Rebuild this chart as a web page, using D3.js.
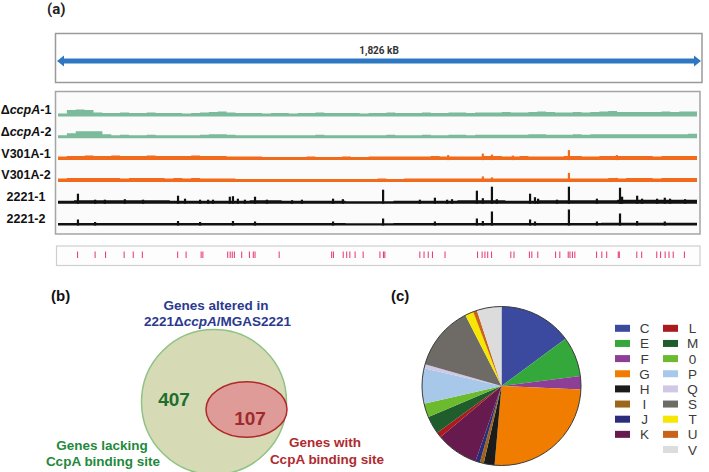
<!DOCTYPE html>
<html><head><meta charset="utf-8">
<script src="https://cdn.jsdelivr.net/npm/d3@7"></script>
<style>body{margin:0;background:#fff}svg{display:block}</style>
</head><body>
<svg id="c" width="709" height="472"></svg>
<script>
// ---------------- DATA ----------------
const genomeKb = 1826;
const genomeLabel = "1,826 kB";
const trackNames = ["ΔccpA-1", "ΔccpA-2", "V301A-1", "V301A-2", "2221-1", "2221-2"];

// binned coverage (relative units) per track
const covDccpA1 = [3,6.5,7,6.5,4,3.5,3.5,4,3.5,3.5,4,3.5,3.5,3.5,3,3.5,4,4.5,5,4,3.5,3.5,3.5,3,3.5,3.5,3,3.5,3.5,4,3.5,3.5,3.5,3.5,3,3.5,3.5,4,3.5,3.5,3.5,4,3.5,3.5,4,4,3.5,4,4,4,4.5,4,4,4.5,5,4.5,4,4,4.5,4,4.5,5,5.5,4.5,4.5,4.5,4.5,4.5,5,4.5,5,5];
const covDccpA2 = [3,5,7,7,7,4,3,3.5,3,3,3.5,3,3,3,3,3,3.5,4,4,3.5,3,3,3,3,3,3,3,3,3,3.5,3,3,3,3,3,3,3,3.5,3,3,3,3.5,3,3,3.5,3.5,3,3.5,3.5,3.5,3.5,3.5,3.5,4,4,3.5,3.5,3.5,4,3.5,4,4,4,4,4,4,4,4,4,4,4,4.5];
const covV301A1 = [3.5,4,4,4.5,4,4,4.5,4,4,4,4.5,4,4,4,4,4.5,4,4,4,3.5,3.5,3.5,3.5,3,3,3,3,3,3.5,3,3,3,3.5,3,3,3.5,3.5,3.5,3.5,3.5,3.5,3.5,4,3.5,3.5,3.5,3.5,3.5,4,4,3.5,3.5,4,3.5,3.5,3.5,3.5,4,4,3.5,3.5,4,4,4,4,4,4,3.5,4,4,4,4];
const covV301A2 = [3.5,4,4,4,4,4,4,3.5,4,4,4,4,3.5,4,3.5,4,3.5,3.5,3.5,3.5,3,3,3,3,3,3,3,3,3,3,3,3,3,3,3,3,3.5,3,3,3.5,3.5,3.5,3.5,3.5,3.5,3.5,3.5,3.5,3.5,3.5,3.5,3.5,3.5,3.5,3.5,3.5,3.5,3.5,3.5,3.5,3.5,3.5,4,3.5,4,4,4,3.5,4,4,4,4];
const cov2221_1 = [3,3.5,3.5,3.5,3.5,3.5,3.5,3,3,3,3,3,3.5,3.5,3,3,3,3,2.5,2.5,2.5,3,3,3,3,3.5,3.5,3.5,3,3,3.5,3.5,3.5,3.5,3.5,4,4,4,4,4];
const cov2221_2 = [2.5,2.5,2.5,2.5,2.5,2.5,2.5,2.5,2.5,2.5,2.5,2.5,2.5,2.5,2.5,2.5,2.5,2.5,2.2,2.2,2.2,2.5,2.5,2.5,2.5,2.5,2.5,2.5,2.5,2.5,2.5,2.5,2.5,2.5,2.8,2.8,2.8,2.8,2.8,2.8];

// coverage peaks [position kB, coverage]
const peaksDccpA1 = [];
const peaksDccpA2 = [];
const peaksV301A1 = [[1115,5],[1214,6.5],[1240,5.5],[1300,4.5],[1460,10],[1597,5]];
const peaksV301A2 = [[1214,5.5],[1240,4.5],[1460,9],[1597,4]];
const peaks2221_1 = [[57,10],[106,4],[134,4],[191,4.5],[243,4],[343,8],[363,5],[406,4],[429,4],[443,4],[491,7],[500,7.5],[514,5],[534,4],[563,7],[597,4],[669,3.5],[697,4],[786,5],[814,4.5],[929,14],[1034,4],[1077,6],[1112,4],[1126,4.5],[1197,13],[1214,5.5],[1240,17],[1254,4.5],[1349,10],[1363,6.5],[1372,5],[1426,4],[1460,17],[1540,5],[1606,16],[1612,7],[1655,8],[1669,5],[1712,5],[1734,6],[1749,5],[1792,4.5]];
const peaks2221_2 = [[57,6],[106,3.5],[343,4.5],[406,3.5],[500,4.5],[563,4],[786,4],[929,7],[1077,4],[1197,7],[1214,4.5],[1240,14],[1349,6],[1363,4],[1460,16],[1540,4],[1606,12],[1655,4.5],[1734,4]];

// CcpA binding sites (kB)
const bindingSitesKb = [56,106,136,189,215,241,342,366,409,414,485,492,498,504,525,547,558,563,632,782,787,815,825,834,849,872,920,930,934,1034,1046,1058,1070,1106,1199,1212,1220,1228,1239,1294,1303,1347,1354,1371,1422,1434,1458,1463,1470,1477,1539,1554,1568,1601,1604,1654,1668,1711,1722,1735,1746,1758,1790];

// Venn
const vennCounts = [407, 107];
const vennTitle = ["Genes altered in", "2221ΔccpA/MGAS2221"];
const vennLacking = ["Genes lacking", "CcpA binding site"];
const vennWith = ["Genes with", "CcpA binding site"];

// Pie (COG category shares, %)
const cogCategories = ["C","E","F","G","H","I","J","K","L","M","0","P","Q","S","T","U","V"];
const cogShares = [14.9,8.1,2.7,25.7,2.2,0.8,0.9,8.6,1.1,3.6,2.8,7.2,0.8,13.1,1.7,0.8,5.0];

// ---------------- STYLE ----------------
const trackColors = ["#7bbb9b","#7bbb9b","#f26b1c","#f26b1c","#111111","#111111"];
const cogColors = ["#3b4a9e","#35a83c","#8d3f97","#f07d00","#1b1b1b","#9c6618","#2b2c7c","#661a4e","#ab1a1c","#1f5e2c","#6cba2e","#a8c8ea","#d0c8e4","#6e6b67","#f6e600","#c9631c","#dcdcdc"];
const SANS = "'Liberation Sans', Arial, sans-serif";

const svg = d3.select("#c");

// ---------------- PANEL (a) ----------------
svg.append("text").attr("x", 47).attr("y", 14).text("(a)")
  .attr("font-family", "Roboto, sans-serif").attr("font-weight", 700).attr("font-size", 15).attr("fill", "#222");

svg.append("rect").attr("x", 55.5).attr("y", 33.5).attr("width", 646.5).attr("height", 49)
  .attr("fill", "#fff").attr("stroke", "#9a9a9a").attr("stroke-width", 1.5);

const xArrow = d3.scaleLinear().domain([0, genomeKb]).range([57, 701]);
const ay = 61, bodyH = 2.6, headH = 5.5, headL = 7;
const a0 = xArrow(0), a1 = xArrow(genomeKb);
svg.append("path").attr("fill", "#2e78c2").attr("d",
  `M${a0},${ay} L${a0+headL},${ay-headH} L${a0+headL},${ay-bodyH} L${a1-headL},${ay-bodyH} L${a1-headL},${ay-headH} L${a1},${ay} L${a1-headL},${ay+headH} L${a1-headL},${ay+bodyH} L${a0+headL},${ay+bodyH} L${a0+headL},${ay+headH} Z`);
svg.append("text").attr("x", xArrow(genomeKb/2)).attr("y", 53.5).attr("text-anchor", "middle")
  .text(genomeLabel).attr("font-family", "Roboto, sans-serif").attr("font-weight", 700)
  .attr("font-size", 10).attr("fill", "#333");

// tracks box
svg.append("rect").attr("x", 55.5).attr("y", 91.5).attr("width", 644.5).attr("height", 142.5)
  .attr("fill", "#fbfbfb").attr("stroke", "#a5a5a5").attr("stroke-width", 1.5);

const xG = d3.scaleLinear().domain([0, genomeKb]).range([58, 697]);
const yTrack = d3.scalePoint().domain(trackNames).range([116.5, 225.5]);
const hCov = d3.scaleLinear().domain([0, 20]).range([0, 20]);

const covs = [covDccpA1, covDccpA2, covV301A1, covV301A2, cov2221_1, cov2221_2];
const peaks = [peaksDccpA1, peaksDccpA2, peaksV301A1, peaksV301A2, peaks2221_1, peaks2221_2];

trackNames.forEach((name, ti) => {
  const base = yTrack(name);
  const cov = covs[ti], n = cov.length, w = genomeKb / n;
  const pts = cov.map((v, i) => [i * w, v]);
  pts.push([genomeKb, cov[n - 1]]);
  const area = d3.area().x(d => xG(d[0])).y0(base).y1(d => base - hCov(d[1])).curve(d3.curveStepAfter);
  const g = svg.append("g");
  g.append("path").attr("d", area(pts)).attr("fill", trackColors[ti]);
  g.selectAll("rect").data(peaks[ti]).join("rect")
    .attr("x", d => xG(d[0]) - 1.1).attr("width", 2.2)
    .attr("y", d => base - hCov(d[1])).attr("height", d => hCov(d[1]))
    .attr("fill", trackColors[ti]);

  // label
  const t = svg.append("text").attr("x", 26).attr("y", base - 2.5).attr("text-anchor", "middle")
    .attr("font-family", SANS).attr("font-weight", 700).attr("font-size", 12.5).attr("fill", "#111");
  if (name.startsWith("Δ")) {
    const m = name.match(/^Δ(ccpA)(.*)$/);
    t.append("tspan").text("Δ");
    t.append("tspan").attr("font-style", "italic").text(m[1]);
    t.append("tspan").text(m[2]);
  } else t.text(name);
});

// binding sites
svg.append("rect").attr("x", 56.5).attr("y", 246).attr("width", 643.5).attr("height", 19.5)
  .attr("fill", "#fdfdfd").attr("stroke", "#cfcfcf").attr("stroke-width", 1.2);
svg.append("g").selectAll("line").data(bindingSitesKb).join("line")
  .attr("x1", d => xG(d)).attr("x2", d => xG(d)).attr("y1", 251.5).attr("y2", 258)
  .attr("stroke", "#e8336e").attr("stroke-width", 1);

// ---------------- PANEL (b) ----------------
svg.append("text").attr("x", 51).attr("y", 301).text("(b)")
  .attr("font-family", SANS).attr("font-weight", 700).attr("font-size", 15).attr("fill", "#111");

svg.append("circle").attr("cx", 214).attr("cy", 402).attr("r", 72.5)
  .attr("fill", "#d6dbb6").attr("stroke", "#91c285").attr("stroke-width", 1.5);
svg.append("ellipse").attr("cx", 246.5).attr("cy", 409.5).attr("rx", 40.5).attr("ry", 27.8)
  .attr("fill", "#df9b98").attr("stroke", "#b0282b").attr("stroke-width", 1.5);

function boldText(x, y, s, size, fill) {
  return svg.append("text").attr("x", x).attr("y", y).attr("text-anchor", "middle")
    .attr("font-family", SANS).attr("font-weight", 700).attr("font-size", size).attr("fill", fill).text(s);
}
boldText(216, 309.5, vennTitle[0], 13.5, "#2b3a8f");
{
  const t = svg.append("text").attr("x", 217.5).attr("y", 325.5).attr("text-anchor", "middle")
    .attr("font-family", SANS).attr("font-weight", 700).attr("font-size", 13.5).attr("fill", "#2b3a8f");
  const m = vennTitle[1].match(/^(.*Δ)(ccpA)(.*)$/);
  t.append("tspan").text(m[1]);
  t.append("tspan").attr("font-style", "italic").text(m[2]);
  t.append("tspan").text(m[3]);
}
boldText(174, 406, vennCounts[0], 19, "#1e6e2e");
boldText(250, 425, vennCounts[1], 19, "#9e2a2b");
boldText(102, 449.5, vennLacking[0], 13.5, "#1f8a3c");
boldText(103, 465.5, vennLacking[1], 13.5, "#1f8a3c");
boldText(325, 447, vennWith[0], 13.5, "#b02a30");
boldText(327, 463.5, vennWith[1], 13.5, "#b02a30");

// ---------------- PANEL (c) ----------------
svg.append("text").attr("x", 391).attr("y", 300.5).text("(c)")
  .attr("font-family", SANS).attr("font-weight", 700).attr("font-size", 15).attr("fill", "#111");

const pie = d3.pie().sort(null).value(d => d);
const arc = d3.arc().innerRadius(0).outerRadius(79.5);
const pg = svg.append("g").attr("transform", "translate(501.5,386)");
pg.selectAll("path").data(pie(cogShares)).join("path")
  .attr("d", arc).attr("fill", (d, i) => cogColors[i]);
pg.append("circle").attr("r", 79.5).attr("fill", "none").attr("stroke", "#3a3a3a").attr("stroke-width", 1);

// legend
const perCol = 8;
const legendRow = d3.scaleLinear().domain([0, 1]).range([328.3, 343.45]);
const lg = svg.append("g");
cogCategories.forEach((c, i) => {
  const col = i < perCol ? 0 : 1;
  const row = col === 0 ? i : i - perCol;
  const y = legendRow(row);
  const sx = col === 0 ? 615 : 663;
  lg.append("rect").attr("x", sx).attr("y", y - 3.5).attr("width", 15).attr("height", 7).attr("fill", cogColors[i]);
  lg.append("text").attr("x", sx + 29.5).attr("y", y + 5).attr("text-anchor", "middle")
    .attr("font-family", SANS).attr("font-size", 13.5).attr("fill", "#3a3a3a").text(c);
});
</script>
</body></html>
